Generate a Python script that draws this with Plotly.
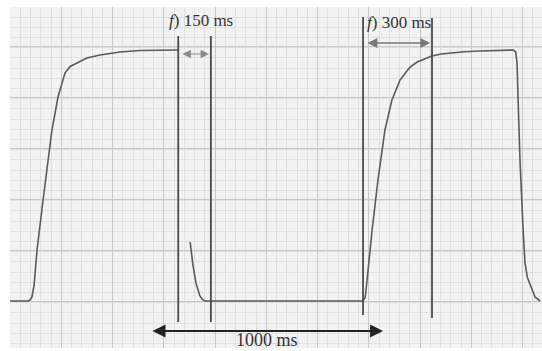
import plotly.graph_objects as go

# Action potential trace (time in ms, voltage in mV); None marks the hidden gap
trace_t = [0, 77, 86, 94, 103, 116, 142, 180, 206, 223, 236, 258, 288, 330, 386, 472, 558, 721,
           None,
           773, 779, 785, 798, 807, 815, 826, 837, 1515,
           1524, 1528, 1536, 1554, 1579, 1609, 1639, 1674, 1700, 1717, 1747, 1780, 1811, 1850, 1888,
           1950, 2017, 2100, 2160, 2170, 2176, 2180, 2189, 2202, 2210, 2220, 2232, 2243, 2253, 2275]
trace_v = [-85, -85, -84.6, -83.5, -79, -64.6, -44.6, -16.6, -3.4, 2.6, 6.2, 8.8, 10.2, 12.2, 13.4, 14.6, 15.2, 15.4,
           None,
           -61.4, -66.5, -70.6, -77.8, -81, -83, -84.4, -85, -85,
           -83.6, -80.6, -72.6, -56.6, -36.6, -16.6, -4.6, 3.4, 6.6, 8.6, 10.6, 12, 13, 13.8, 14.2,
           14.7, 15, 15.3, 15.4, 14.6, 10, -3.4, -29.8, -56.6, -69.8, -75.5, -78.6, -81.5, -83.4, -85]

# Vertical marker lines (time, top mV, bottom mV)
marker_t = [722, 862, 1515, 1811]
marker_top = [21, 21, 28.6, 28.2]
marker_bot = [-93.4, -93.4, -90.6, -91.8]

# Interval arrows: (start ms, end ms, level mV)
arrow_start = [734, 1528, 605]
arrow_end = [854, 1803, 1601]
arrow_level = [13.8, 18.2, -97]

# Labels
label_text = ["<i>f</i>) 150 ms", "<i>f</i>) 300 ms", "1000 ms"]
label_t = [674, 1524, 1103]
label_v = [27.4, 26.4, -100.6]
label_anchor = ["left", "left", "center"]
label_size = [17, 17, 18]

fig = go.Figure()

fig.add_trace(go.Scatter(x=trace_t, y=trace_v, mode="lines",
                         line=dict(color="#5a5a5a", width=1.6),
                         connectgaps=False, showlegend=False, hoverinfo="skip"))

for t, top, bot in zip(marker_t, marker_top, marker_bot):
    fig.add_trace(go.Scatter(x=[t, t], y=[bot, top], mode="lines",
                             line=dict(color="#4a4a4a", width=1.8),
                             showlegend=False, hoverinfo="skip"))

arrow_styles = [
    dict(color="#8a8a8a", width=1.2, size=1.4),
    dict(color="#777777", width=1.4, size=1.4),
    dict(color="#222222", width=2.0, size=1.3),
]
for s, e, lv, st in zip(arrow_start, arrow_end, arrow_level, arrow_styles):
    fig.add_annotation(x=e, y=lv, ax=s, ay=lv, xref="x", yref="y",
                       axref="x", ayref="y", text="", showarrow=True,
                       arrowhead=2, arrowside="end+start", arrowsize=st["size"],
                       arrowwidth=st["width"], arrowcolor=st["color"],
                       standoff=0, startstandoff=0)

for txt, t, v, anc, sz in zip(label_text, label_t, label_v, label_anchor, label_size):
    fig.add_annotation(x=t, y=v, xref="x", yref="y", text=txt, showarrow=False,
                       xanchor=anc, yanchor="middle",
                       font=dict(family="Liberation Serif", size=sz, color="#333333"))

fig.update_xaxes(range=[0, 2283], showticklabels=False, ticks="", zeroline=False,
                 showgrid=True, gridcolor="#c8c8c8", gridwidth=1, dtick=220, tick0=0,
                 minor=dict(showgrid=True, dtick=44, gridcolor="#e0e0e0", gridwidth=1),
                 showline=False, fixedrange=True)
fig.update_yaxes(range=[-103.8, 32.6], showticklabels=False, ticks="", zeroline=False,
                 showgrid=True, gridcolor="#c8c8c8", gridwidth=1, dtick=20.4, tick0=-85,
                 minor=dict(showgrid=True, dtick=4.08, gridcolor="#e0e0e0", gridwidth=1),
                 showline=False, fixedrange=True)

fig.update_layout(width=542, height=351,
                  margin=dict(l=10, r=0, t=7, b=3),
                  paper_bgcolor="white", plot_bgcolor="#f2f2f2",
                  showlegend=False)

fig.write_html("out.html", config={"displayModeBar": False},
               post_script="document.body.style.margin='0';document.body.style.overflow='hidden';")
